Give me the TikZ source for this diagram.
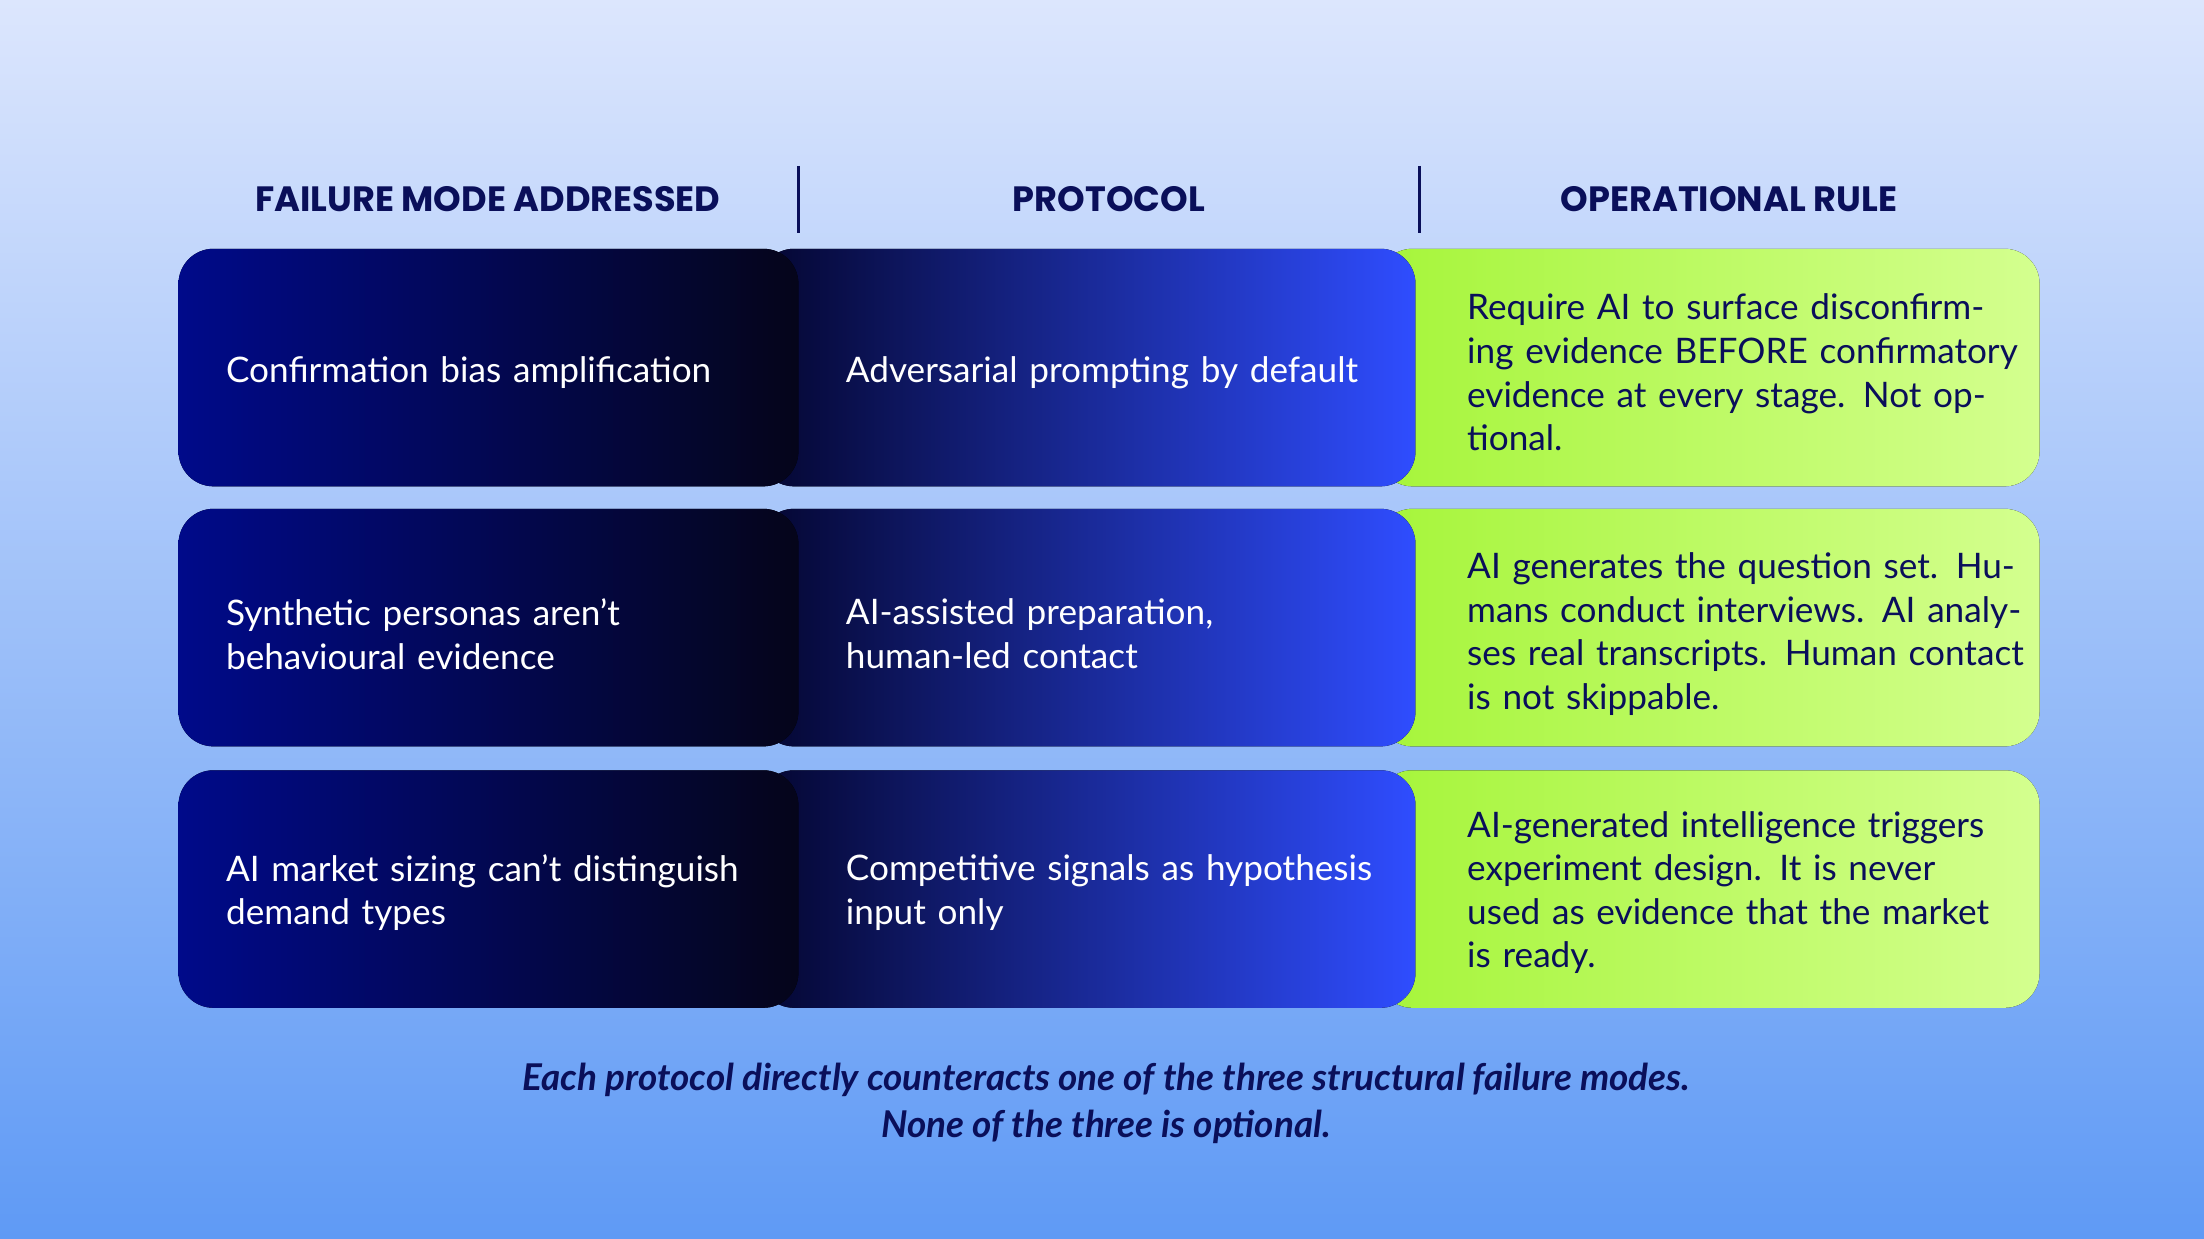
\documentclass[tikz,border=0pt]{standalone}
\usepackage{fontspec}
\setmainfont{Lato}
\newfontfamily\headfont{Poppins}
\usetikzlibrary{positioning}
\definecolor{navy}{HTML}{0A0F5A}
\definecolor{deepblue}{HTML}{000A8A}
\definecolor{inkblack}{HTML}{05051A}
\definecolor{brightblue}{HTML}{2F4DFF}
\definecolor{lime}{HTML}{A6F53A}
\definecolor{palelime}{HTML}{D4FF8F}
\definecolor{skytop}{HTML}{DCE6FD}
\definecolor{skybot}{HTML}{5F9AF5}
\begin{document}
\begin{tikzpicture}[
    x=0.014056cm, y=-0.014056cm,
    head/.style={font=\headfont\bfseries\fontsize{10}{12}\selectfont, text=navy},
    cell/.style={anchor=west, align=left, text width=#1, font=\fontsize{10}{12.4}\selectfont},
    cell/.default=5.6cm,
    failbox/.style={rounded corners=0.35cm, left color=deepblue, right color=inkblack},
    protobox/.style={rounded corners=0.35cm, left color=inkblack!80!deepblue, right color=brightblue},
    rulebox/.style={rounded corners=0.35cm, left color=lime, right color=palelime},
    divider/.style={navy, line width=0.8pt}
]
% background
\shade[top color=skytop, bottom color=skybot] (0,0) rectangle (1568,881);

% headers
\node[head] (h_fail) at (347,142) {FAILURE MODE ADDRESSED};
\node[head] (h_proto) at (789,142) {PROTOCOL};
\node[head] (h_rule) at (1230,142) {OPERATIONAL RULE};
\draw[divider] (568,118) -- (568,166);
\draw[divider] (1010,118) -- (1010,166);

% rows
\foreach \top/\bot in {177/346, 362/531, 548/717} {
    \fill[rulebox] (980,\top) rectangle (1451,\bot);
    \fill[protobox] (540,\top) rectangle (1007,\bot);
    \fill[failbox] (127,\top) rectangle (568,\bot);
}

% row 1
\node[cell, text=white] (fail1) at (152,265) {Confirmation bias amplification};
\node[cell, text=white] (proto1) at (593,265) {Adversarial prompting by default};
\node[cell, text=navy] (rule1) at (1035,265) {Require AI to surface disconfirming evidence BEFORE confirmatory evidence at every stage. Not optional.};

% row 2
\node[cell, text=white] (fail2) at (152,451) {Synthetic personas aren't\\behavioural evidence};
\node[cell, text=white] (proto2) at (593,451) {AI-assisted preparation,\\human-led contact};
\node[cell, text=navy] (rule2) at (1035,451) {AI generates the question set. Humans conduct interviews. AI analyses real transcripts. Human contact is not skippable.};

% row 3
\node[cell, text=white] (fail3) at (152,635) {AI market sizing can't distinguish\\demand types};
\node[cell, text=white] (proto3) at (593,635) {Competitive signals as hypothesis\\input only};
\node[cell, text=navy] (rule3) at (1035,635) {AI-generated intelligence triggers experiment design. It is never used as evidence that the market is ready.};

% footer
\node[align=center, text=navy, font=\itshape\bfseries\fontsize{10.5}{13.4}\selectfont] (note) at (787,785)
    {Each protocol directly counteracts one of the three structural failure modes.\\None of the three is optional.};
\end{tikzpicture}
\end{document}
